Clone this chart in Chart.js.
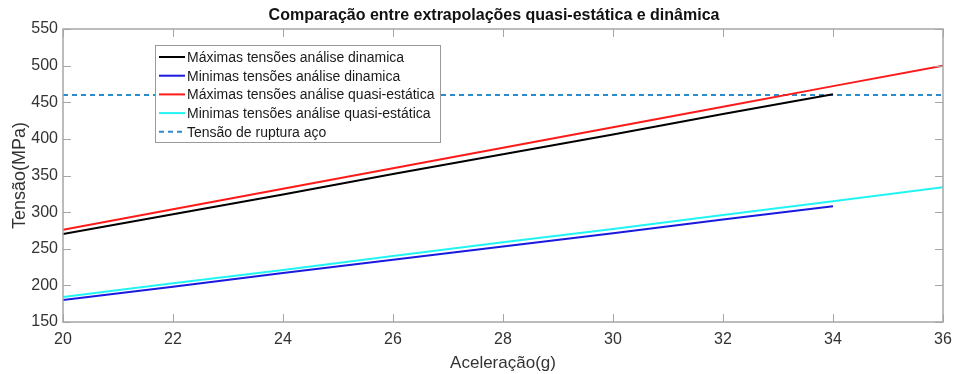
<!DOCTYPE html>
<html>
<head>
<meta charset="utf-8">
<script src="https://cdn.jsdelivr.net/npm/chart.js@4"></script>
<style>
  html, body { margin: 0; padding: 0; background: #fff; }
  #wrap { width: 955px; height: 374px; }
</style>
</head>
<body>
<div id="wrap"><canvas id="chart" width="955" height="374"></canvas></div>
<script>
// values
const acelDin = [20, 22, 24, 26, 28, 30, 32, 34];
const acelQuasi = [20, 22, 24, 26, 28, 30, 32, 34, 36];
const maxDinamica = [270, 297, 324, 352, 379, 406, 434, 461];
const minDinamica = [180, 198, 217, 235, 253, 271, 290, 308];
const maxQuasi = [276, 304, 332, 360, 388, 416, 444, 472, 500];
const minQuasi = [184, 203, 221, 240, 259, 277, 296, 315, 334];
const rupturaX = [20, 36];
const rupturaY = [460, 460];

const xTicks = [20, 22, 24, 26, 28, 30, 32, 34, 36];
const yTicks = [150, 200, 250, 300, 350, 400, 450, 500, 550];

const FONT = '"Liberation Sans", Arial, sans-serif';
const AXIS_COLOR = '#a6a6a6';
const TEXT_COLOR = '#333333';

function pts(xs, ys) {
  return xs.map((x, i) => ({ x: x, y: ys[i] }));
}

const datasets = [
  { label: 'Máximas tensões análise dinamica', data: pts(acelDin, maxDinamica), borderColor: '#000000' },
  { label: 'Minimas tensões análise dinamica', data: pts(acelDin, minDinamica), borderColor: '#1a1adf' },
  { label: 'Máximas tensões análise quasi-estática', data: pts(acelQuasi, maxQuasi), borderColor: '#ff1a1a' },
  { label: 'Minimas tensões análise quasi-estática', data: pts(acelQuasi, minQuasi), borderColor: '#22f4f4' },
  { label: 'Tensão de ruptura aço', data: pts(rupturaX, rupturaY), borderColor: '#2b8ccc', borderDash: [5, 4] }
].map(d => Object.assign({ borderWidth: 2, pointRadius: 0, fill: false, tension: 0 }, d));

// MATLAB-like box with inward ticks on all four sides
const boxPlugin = {
  id: 'boxAxes',
  afterDatasetsDraw(chart) {
    const { ctx, chartArea: a, scales } = chart;
    ctx.save();
    ctx.strokeStyle = AXIS_COLOR;
    ctx.lineWidth = 1.5;
    ctx.strokeRect(a.left, a.top, a.right - a.left, a.bottom - a.top);
    ctx.lineWidth = 1;
    ctx.beginPath();
    xTicks.forEach(v => {
      const px = Math.round(scales.x.getPixelForValue(v)) + 0.5;
      ctx.moveTo(px, a.bottom); ctx.lineTo(px, a.bottom - 8);
      ctx.moveTo(px, a.top); ctx.lineTo(px, a.top + 8);
    });
    yTicks.forEach(v => {
      const py = Math.round(scales.y.getPixelForValue(v)) + 0.5;
      ctx.moveTo(a.left, py); ctx.lineTo(a.left + 8, py);
      ctx.moveTo(a.right, py); ctx.lineTo(a.right - 8, py);
    });
    ctx.stroke();
    ctx.restore();
  }
};

// legend box drawn like the original
const legendPlugin = {
  id: 'boxLegend',
  afterDraw(chart) {
    const ctx = chart.ctx;
    const x0 = 155, y0 = 45, w = 285, h = 97;
    ctx.save();
    ctx.fillStyle = '#ffffff';
    ctx.fillRect(x0, y0, w, h);
    ctx.strokeStyle = '#9a9a9a';
    ctx.lineWidth = 1;
    ctx.strokeRect(x0 + 0.5, y0 + 0.5, w, h);
    ctx.font = '14px ' + FONT;
    ctx.textBaseline = 'middle';
    chart.data.datasets.forEach((ds, i) => {
      const y = y0 + 12 + i * 18.7;
      ctx.strokeStyle = ds.borderColor;
      ctx.lineWidth = 2;
      ctx.setLineDash(ds.borderDash || []);
      ctx.beginPath();
      ctx.moveTo(x0 + 4, y); ctx.lineTo(x0 + 30, y);
      ctx.stroke();
      ctx.setLineDash([]);
      ctx.fillStyle = '#1a1a1a';
      ctx.fillText(ds.label, x0 + 32, y + 1);
    });
    ctx.restore();
  }
};

new Chart(document.getElementById('chart'), {
  type: 'line',
  data: { datasets: datasets },
  options: {
    responsive: false,
    animation: false,
    layout: { padding: { top: 29, right: 12, left: 9, bottom: 0 } },
    plugins: {
      legend: { display: false },
      tooltip: { enabled: false },
      title: { display: false }
    },
    scales: {
      x: {
        type: 'linear', min: 20, max: 36,
        grid: { display: false, drawTicks: false, tickLength: 0 },
        border: { display: false },
        afterBuildTicks(s) { s.ticks = xTicks.map(v => ({ value: v })); },
        afterFit(s) { s.height = 52; s.paddingLeft = 0; s.paddingRight = 0; },
        ticks: { color: TEXT_COLOR, font: { family: FONT, size: 16 }, padding: 8, maxRotation: 0 },
        title: { display: true, text: 'Aceleração(g)', color: TEXT_COLOR, font: { family: FONT, size: 17 }, padding: { top: 0, bottom: 0 } }
      },
      y: {
        type: 'linear', min: 150, max: 550,
        grid: { display: false, drawTicks: false, tickLength: 0 },
        border: { display: false },
        afterBuildTicks(s) { s.ticks = yTicks.map(v => ({ value: v })); },
        afterFit(s) { s.width = 54; s.paddingTop = 0; s.paddingBottom = 0; },
        ticks: { color: TEXT_COLOR, font: { family: FONT, size: 16 }, padding: 5 },
        title: { display: true, text: 'Tensão(MPa)', color: TEXT_COLOR, font: { family: FONT, size: 18 }, padding: { top: 0, bottom: 0 } }
      }
    }
  },
  plugins: [boxPlugin, legendPlugin, {
    id: 'topTitle',
    afterDraw(chart) {
      const ctx = chart.ctx;
      ctx.save();
      ctx.font = 'bold 16px ' + FONT;
      ctx.fillStyle = '#111111';
      ctx.textAlign = 'center';
      ctx.textBaseline = 'middle';
      ctx.fillText('Comparação entre extrapolações quasi-estática e dinâmica', 494, 16);
      ctx.restore();
    }
  }]
});
</script>
</body>
</html>
